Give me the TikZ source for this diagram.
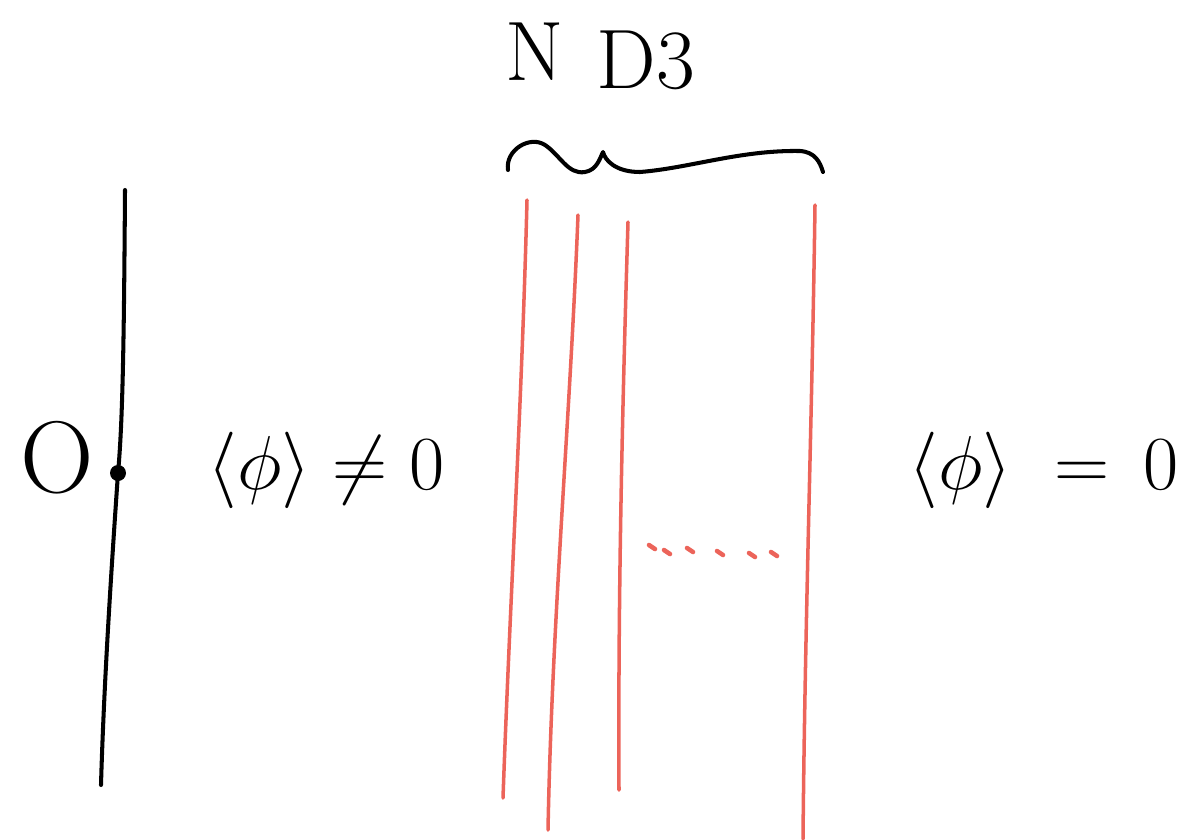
\documentclass[tikz,border=0pt]{standalone}
\usepackage{fontspec}
\begin{document}
\begin{tikzpicture}[x={(0.02cm,0)},y={(0,-0.02cm)},
  blk/.style={line width=2.3pt,black,line cap=round,line join=round},
  redl/.style={line width=2pt,brane,line cap=round},
  lbl/.style={inner sep=0pt,anchor=center},
  bigfont/.style={font=\Huge,scale=1.75}]
\definecolor{brane}{RGB}{236,100,90}
\useasboundingbox (0,0) rectangle (1183,839);
\clip (0,0) rectangle (1183,839);
% black line with dot
\draw[blk] (125,190) .. controls (124,330) and (123,420) .. (118,473)
  .. controls (112,560) and (104,680) .. (101,785);
\fill (118,473) circle (8);
\node[lbl,font=\fontsize{58}{60}\selectfont] (O) at (57,458) {O};
\node[lbl,bigfont] (vev1) at (326,470) {$\langle\phi\rangle\neq0$};
\node[lbl,bigfont,anchor=west] (vev2) at (908,470) {$\langle\phi\rangle\;=\,0$};
% top label and brace
\node[lbl,font=\fontsize{48}{50}\selectfont] (N) at (535,52) {N};
\node[lbl,font=\fontsize{48}{50}\selectfont] (D3) at (646,60) {D3};
\draw[blk] (508,170) .. controls (505,150) and (530,135) .. (545,145)
  .. controls (560,155) and (568,175) .. (585,172)
  .. controls (597,170) and (600,158) .. (603,152)
  .. controls (605,160) and (615,172) .. (640,172)
  .. controls (690,168) and (740,150) .. (800,151)
  .. controls (815,152) and (820,162) .. (823,172);
% red branes
\draw[redl] (527,200) .. controls (522,400) and (510,600) .. (503,798);
\draw[redl] (578,215) .. controls (570,420) and (552,620) .. (548,830);
\draw[redl] (628,222) .. controls (622,420) and (618,600) .. (619,790);
\draw[redl] (815,205) .. controls (812,420) and (805,620) .. (803,839);
% dots
\foreach \x/\y in {652/547,667/552,690/550,720/553,752/555,774/554}
  \draw[redl,line width=2.6pt] (\x-3,\y-2) -- (\x+3,\y+2);
\end{tikzpicture}
\end{document}
